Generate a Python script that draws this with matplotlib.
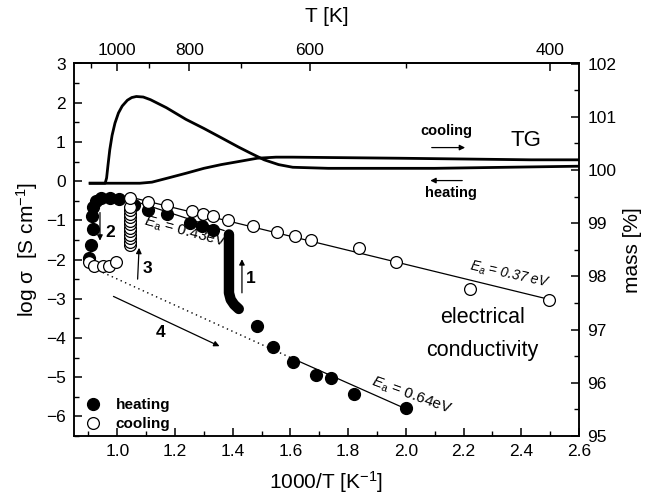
import matplotlib
matplotlib.use("Agg")
import matplotlib.pyplot as plt
from matplotlib.lines import Line2D
from matplotlib.ticker import FixedLocator, MultipleLocator

plt.rcParams['font.family'] = ['Liberation Sans', 'DejaVu Sans']
plt.rcParams['mathtext.fontset'] = 'custom'
plt.rcParams['mathtext.rm'] = 'Liberation Sans'
plt.rcParams['mathtext.it'] = 'Liberation Sans:italic'
plt.rcParams['mathtext.bf'] = 'Liberation Sans:bold'

# ---------------- data ----------------
# TG curves (mass %, right axis)
tg_peak_x = [0.906, 0.958, 0.963, 0.968, 0.974, 0.982, 0.992, 1.004, 1.017, 1.035, 1.05, 1.066,
             1.09, 1.115, 1.17, 1.238, 1.30, 1.362, 1.42, 1.46, 1.509, 1.559, 1.608, 1.731, 2.1, 2.6]
tg_peak_m = [99.75, 99.75, 99.85, 100.1, 100.38, 100.65, 100.88, 101.07, 101.20, 101.31, 101.36, 101.38,
             101.37, 101.32, 101.17, 100.95, 100.78, 100.60, 100.43, 100.32, 100.19, 100.10, 100.05, 100.03, 100.03, 100.07]
tg_b_x = [0.906, 1.078, 1.12, 1.177, 1.24, 1.30, 1.36, 1.423, 1.485, 1.55, 1.607, 1.976, 2.433, 2.6]
tg_b_m = [99.75, 99.75, 99.77, 99.85, 99.94, 100.03, 100.10, 100.16, 100.22, 100.24, 100.24, 100.22, 100.19, 100.19]

# conductivity, heating (filled)
heat_x = [2.001, 1.820, 1.740, 1.687, 1.608, 1.540, 1.485,
          1.331, 1.292, 1.251, 1.173, 1.108, 1.059,
          1.005, 0.975, 0.945, 0.925, 0.917, 0.912, 0.915, 0.909, 0.903]
heat_y = [-5.79, -5.42, -5.02, -4.94, -4.62, -4.24, -3.69,
          -1.24, -1.14, -1.06, -0.85, -0.73, -0.60,
          -0.45, -0.44, -0.42, -0.50, -0.65, -0.88, -1.22, -1.63, -1.97]
# dense heating band (many overlapping points)
band_x = [1.421, 1.405, 1.393, 1.387, 1.387]
band_y = [-3.26, -3.15, -3.02, -2.85, -1.36]

# conductivity, cooling (open)
cool_x = [0.903, 0.921, 0.949, 0.972, 0.995,
          1.043, 1.043, 1.043, 1.043, 1.043, 1.043, 1.043, 1.043, 1.043, 1.043, 1.043, 1.043,
          1.045, 1.108, 1.173, 1.258, 1.297, 1.332, 1.384, 1.472, 1.555, 1.616, 1.673,
          1.838, 1.967, 2.223, 2.495]
cool_y = [-2.06, -2.17, -2.17, -2.17, -2.06,
          -1.63, -1.54, -1.45, -1.37, -1.28, -1.19, -1.10, -1.01, -0.92, -0.83, -0.74, -0.65,
          -0.43, -0.54, -0.60, -0.76, -0.83, -0.89, -0.98, -1.15, -1.30, -1.41, -1.51,
          -1.71, -2.06, -2.74, -3.02]

# fit lines
fit037_x = [1.03, 2.51]
fit037_y = [-0.38, -3.04]
fit043_x = [1.03, 1.37]
fit043_y = [-0.44, -1.26]
fit064_x = [0.95, 1.60, 2.01]
fit064_y = [-2.33, -4.50, -5.84]

# top axis (temperature)
t_major = [1000, 800, 600, 400]
t_minor = [1100, 900, 700, 500]

# ---------------- figure ----------------
fig = plt.figure(figsize=(6.48, 4.98), dpi=100)
ax = fig.add_axes([74/648, 1-436/498, (579-74)/648, (436-63.5)/498])
ax2 = ax.twinx()

ax.set_xlim(0.85, 2.6)
ax.set_ylim(-6.5, 3)
ax2.set_ylim(95, 102)

tick_fs = 12.5
for a in (ax, ax2):
    for s in a.spines.values():
        s.set_linewidth(1.1)
ax.xaxis.set_major_locator(MultipleLocator(0.2))
ax.xaxis.set_minor_locator(MultipleLocator(0.1))
ax.yaxis.set_major_locator(MultipleLocator(1))
ax.yaxis.set_minor_locator(MultipleLocator(0.5))
ax2.yaxis.set_major_locator(MultipleLocator(1))
ax2.yaxis.set_minor_locator(MultipleLocator(0.5))
ax.tick_params(axis='both', which='major', direction='in', length=6, width=1.1, labelsize=tick_fs, pad=6)
ax.tick_params(axis='both', which='minor', direction='in', length=3.5, width=1.0)
ax2.tick_params(axis='y', which='major', direction='in', length=6, width=1.1, labelsize=tick_fs, pad=6)
ax2.tick_params(axis='y', which='minor', direction='in', length=3.5, width=1.0)
ax.set_xticks([1.0, 1.2, 1.4, 1.6, 1.8, 2.0, 2.2, 2.4, 2.6])
ax.set_xticklabels(['1.0', '1.2', '1.4', '1.6', '1.8', '2.0', '2.2', '2.4', '2.6'])

sec = ax.secondary_xaxis('top', functions=(lambda x: 1000.0/x, lambda t: 1000.0/t))
sec.xaxis.set_major_locator(FixedLocator(t_major))
sec.xaxis.set_minor_locator(FixedLocator(t_minor))
sec.set_xticklabels([str(t) for t in t_major])
sec.tick_params(axis='x', which='major', direction='in', length=6, width=1.1, labelsize=tick_fs, pad=4)
sec.tick_params(axis='x', which='minor', direction='in', length=3.5, width=1.0)
sec.spines['top'].set_linewidth(1.1)
sec.set_xlabel('T [K]', fontsize=15, labelpad=15)

ax.set_xlabel(r'1000/T [K$^{\mathregular{-1}}$]', fontsize=15, labelpad=7)
ax.set_ylabel(r'log $\mathregular{\sigma}$  [S cm$^{\mathregular{-1}}$]', fontsize=15, labelpad=4)
ax2.set_ylabel('mass [%]', fontsize=15, labelpad=5)

# fit lines
ax.plot(fit037_x, fit037_y, color='black', lw=0.9, zorder=2)
ax.plot(fit043_x, fit043_y, color='black', lw=0.9, zorder=2)
ax.plot(fit064_x[:2], fit064_y[:2], color='black', lw=1.0, linestyle=(0, (1, 2.5)), zorder=2)
ax.plot(fit064_x[1:], fit064_y[1:], color='black', lw=0.9, zorder=2)

# data
ax.plot(band_x, band_y, color='black', lw=7.5, solid_capstyle='round', solid_joinstyle='round', zorder=3)
ax.plot(heat_x, heat_y, 'o', ms=8.5, mfc='black', mec='black', zorder=3)
ax.plot(cool_x, cool_y, 'o', ms=8.5, mfc='white', mec='black', mew=0.9, zorder=4)

# TG curves
ax2.plot(tg_peak_x, tg_peak_m, color='black', lw=2.0, solid_joinstyle='round')
ax2.plot(tg_b_x, tg_b_m, color='black', lw=2.0, solid_joinstyle='round')

# TG annotations
ax2.text(2.14, 100.73, 'cooling', fontsize=10.5, fontweight='bold', ha='center', va='center')
ax2.annotate('', xy=(2.215, 100.42), xytext=(2.08, 100.42),
             arrowprops=dict(arrowstyle='-|>', color='black', lw=0.9, mutation_scale=8))
ax2.text(2.157, 99.56, 'heating', fontsize=10.5, fontweight='bold', ha='center', va='center')
ax2.annotate('', xy=(2.075, 99.80), xytext=(2.205, 99.80),
             arrowprops=dict(arrowstyle='-|>', color='black', lw=0.9, mutation_scale=8))
ax2.text(2.415, 100.55, 'TG', fontsize=16, ha='center', va='center')

# conductivity annotations
ax.text(1.235, -1.30, r'$E_{\mathregular{a}}$ = 0.43eV', fontsize=11, rotation=-15,
        ha='center', va='center', rotation_mode='anchor')
ax.text(2.36, -2.40, r'$E_{\mathregular{a}}$ = 0.37 eV', fontsize=10, style='italic', rotation=-12.5,
        ha='center', va='center', rotation_mode='anchor')
ax.text(2.02, -5.48, r'$E_{\mathregular{a}}$ = 0.64eV', fontsize=11, rotation=-20,
        ha='center', va='center', rotation_mode='anchor')
ax.text(2.266, -3.47, 'electrical', fontsize=15.5, ha='center', va='center')
ax.text(2.266, -4.32, 'conductivity', fontsize=15.5, ha='center', va='center')

arrow_kw = dict(arrowstyle='-|>', color='black', lw=0.9, mutation_scale=8)
ax.annotate('', xy=(1.432, -1.92), xytext=(1.432, -2.92), arrowprops=arrow_kw)
ax.text(1.462, -2.48, '1', fontsize=12.5, fontweight='bold', ha='center', va='center')
ax.annotate('', xy=(0.94, -1.59), xytext=(0.94, -0.73), arrowprops=arrow_kw)
ax.text(0.975, -1.31, '2', fontsize=12.5, fontweight='bold', ha='center', va='center')
ax.annotate('', xy=(1.076, -1.63), xytext=(1.070, -2.57), arrowprops=arrow_kw)
ax.text(1.105, -2.23, '3', fontsize=12.5, fontweight='bold', ha='center', va='center')
ax.annotate('', xy=(1.363, -4.24), xytext=(0.978, -2.91), arrowprops=arrow_kw)
ax.text(1.151, -3.85, '4', fontsize=12.5, fontweight='bold', ha='center', va='center')

# legend
handles = [Line2D([], [], marker='o', ls='none', ms=8.5, mfc='black', mec='black'),
           Line2D([], [], marker='o', ls='none', ms=8.5, mfc='white', mec='black', mew=0.9)]
ax.legend(handles, ['heating', 'cooling'], loc='lower left', bbox_to_anchor=(0.01, 0.0),
          frameon=False, prop=dict(weight='bold', size=11), handlelength=1.2,
          handletextpad=0.9, labelspacing=0.35, borderpad=0.2, borderaxespad=0.1)

fig.savefig('out.png', dpi=100)
